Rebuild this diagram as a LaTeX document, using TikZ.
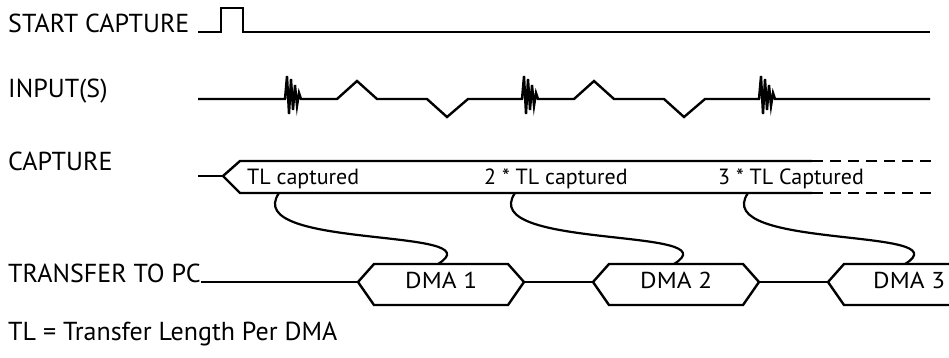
\documentclass[tikz,border=0pt]{standalone}
\usepackage{fontspec}
\setmainfont{PT Sans}
\begin{document}
\begin{tikzpicture}[x=1pt,y=-1pt,
  lbl/.style={anchor=base west, inner sep=0pt, font=\fontsize{26}{30}\selectfont},
  inlbl/.style={anchor=base west, inner sep=0pt, font=\fontsize{22}{26}\selectfont},
  dmalbl/.style={anchor=base west, inner sep=0pt, font=\fontsize{23}{27}\selectfont},
  sig/.style={line width=2.4pt, line join=miter, line cap=butt},
  sigdash/.style={sig, dash pattern=on 11pt off 7pt},
  link/.style={line width=2.2pt}]
\useasboundingbox (0,0) rectangle (949,357);

% labels
\node[lbl] (nstart) at (8,32) {START CAPTURE};
\node[lbl] (ninput) at (8,97) {INPUT(S)};
\node[lbl] (ncapture) at (8,170) {CAPTURE};
\node[lbl] (ntransfer) at (8,282) {TRANSFER TO PC};
\node[lbl] (nnote) at (8,340) {TL = Transfer Length Per DMA};

% start capture
\draw[sig] (198,32) -- (221,32) -- (221,8) -- (243,8) -- (243,32) -- (930,32);

% inputs
\draw[sig] (198,99) -- (285,99)
  -- ++(2,-23) -- ++(2,38) -- ++(2,-35) -- ++(2,31) -- ++(2,-25) -- ++(2,21) -- ++(2,-13) -- ++(2,6)
  -- (337,99) -- (357,81) -- (377,99) -- (427,99) -- (447,117) -- (468,99)
  -- (522,99)
  -- ++(2,-23) -- ++(2,38) -- ++(2,-35) -- ++(2,31) -- ++(2,-25) -- ++(2,21) -- ++(2,-13) -- ++(2,6)
  -- (574,99) -- (594,81) -- (614,99) -- (664,99) -- (684,117) -- (705,99)
  -- (759,99)
  -- ++(2,-23) -- ++(2,38) -- ++(2,-35) -- ++(2,31) -- ++(2,-25) -- ++(2,21) -- ++(2,-13) -- ++(2,6)
  -- (930,99);

% capture bus
\coordinate (capL) at (223,176);
\draw[sig] (198,176) -- (capL);
\draw[sig] (812,161) -- (240,161) -- (capL) -- (240,193) -- (812,193);
\draw[sigdash] (812,161) -- (931,161);
\draw[sigdash] (812,193) -- (931,193);
\node[inlbl] (tcap1) at (247,184) {TL captured};
\node[inlbl] (tcap2) at (484,184) {2 * TL captured};
\node[inlbl] (tcap3) at (718,184) {3 * TL Captured};

% transfer bus
\coordinate (d1L) at (358,282);
\coordinate (d1R) at (524,282);
\coordinate (d2L) at (593,282);
\coordinate (d2R) at (759,282);
\coordinate (d3L) at (828,282);
\draw[sig] (201,282) -- (d1L);
\draw[sig] (d1R) -- (d2L);
\draw[sig] (d2R) -- (d3L);
\draw[sig] (374,264) -- (d1L) -- (374,305) -- (508,305) -- (d1R) -- (508,264) -- cycle;
\draw[sig] (609,264) -- (d2L) -- (609,305) -- (743,305) -- (d2R) -- (743,264) -- cycle;
\draw[sig] (955,264) -- (844,264) -- (d3L) -- (844,305) -- (955,305);
\node[dmalbl] (tdma1) at (405,288) {\scalebox{1.1}[1]{DMA 1}};
\node[dmalbl] (tdma2) at (640,288) {\scalebox{1.1}[1]{DMA 2}};
\node[dmalbl] (tdma3) at (873,288) {\scalebox{1.1}[1]{DMA 3}};

% links
\coordinate (c1s) at (279,193);
\coordinate (c1e) at (438,264);
\coordinate (c2s) at (515,193);
\coordinate (c2e) at (674,264);
\coordinate (c3s) at (748,193);
\coordinate (c3e) at (905,264);
\draw[link] (c1s) .. controls +(-39,57) and +(60,-37) .. (c1e);
\draw[link] (c2s) .. controls +(-39,57) and +(60,-37) .. (c2e);
\draw[link] (c3s) .. controls +(-39,57) and +(60,-37) .. (c3e);
\end{tikzpicture}
\end{document}
